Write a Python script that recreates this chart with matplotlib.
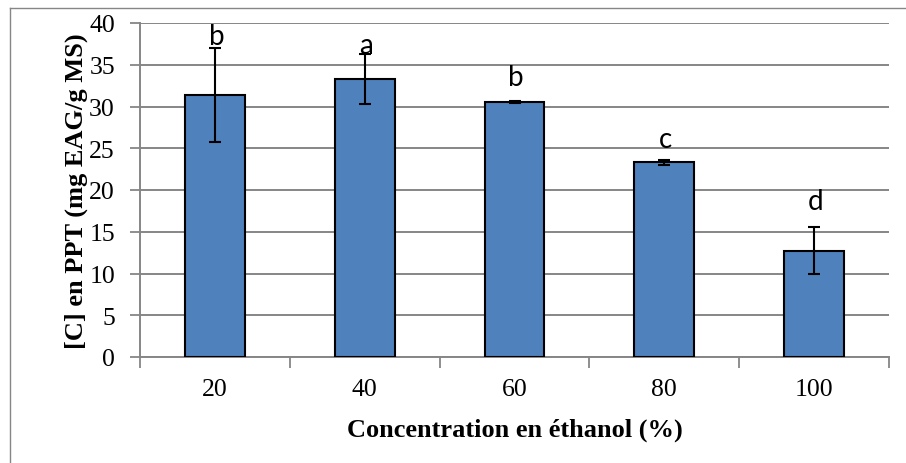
import matplotlib
matplotlib.use("Agg")
import matplotlib.pyplot as plt
from matplotlib.lines import Line2D
import numpy as np

categories = ["20", "40", "60", "80", "100"]
values = [31.4, 33.3, 30.5, 23.35, 12.75]
errors = [5.6, 3.0, 0.1, 0.3, 2.85]
letters = ["b", "a", "b", "c", "d"]
letter_y = [38.5, 37.4, 33.5, 26.1, 18.7]
y_ticks = [0, 5, 10, 15, 20, 25, 30, 35, 40]

W, H = 906, 464
fig = plt.figure(figsize=(W / 100, H / 100), dpi=100)
ax = fig.add_axes([140 / W, (H - 358) / H, (889 - 140) / W, (358 - 24) / H])

gray = "#868686"
x = np.arange(len(categories)) + 0.5
ax.bar(x, values, width=0.4, color="#4F81BD", edgecolor="black", linewidth=1.5, zorder=3)
ax.errorbar(x, values, yerr=errors, fmt="none", ecolor="black", elinewidth=1.5,
            capsize=4.5, capthick=1.5, zorder=4)

for xi, lab, ly in zip(x, letters, letter_y):
    ax.text(xi + 0.01, ly, lab, ha="center", va="center", fontsize=20,
            family=["Lato", "DejaVu Sans"], zorder=5)

ax.set_xlim(0, len(categories))
ax.set_ylim(0, 40)
ax.set_yticks(y_ticks)
ax.set_yticklabels([str(t) for t in y_ticks], family="Liberation Serif", fontsize=18.5)
ax.set_xticks(np.arange(len(categories) + 1))
ax.set_xticklabels([""] * (len(categories) + 1))
ax.set_xticks(x, minor=True)
ax.set_xticklabels(categories, minor=True, family="Liberation Serif", fontsize=18.5)
ax.tick_params(axis="x", which="minor", length=0, pad=15)
ax.tick_params(axis="x", which="major", length=8, width=1.3, color=gray, direction="out")
ax.tick_params(axis="y", length=7, width=1.3, color=gray, direction="out", pad=11)

ax.yaxis.grid(True, color=gray, linewidth=1.4, zorder=0)
ax.set_axisbelow(True)
for s in ["top", "right"]:
    ax.spines[s].set_visible(False)
for s in ["left", "bottom"]:
    ax.spines[s].set_color(gray)
    ax.spines[s].set_linewidth(1.4)

ax.set_ylabel("[C] en PPT (mg EAG/g MS)", family="Liberation Serif", fontsize=19,
              fontweight="bold", labelpad=1)
ax.set_xlabel("Concentration en éthanol (%)", family="Liberation Serif", fontsize=19,
              fontweight="bold", labelpad=13)

# outer chart frame (left and top visible)
fig.add_artist(Line2D([10 / W, 10 / W], [0, (H - 9) / H], transform=fig.transFigure,
                      color=gray, linewidth=1.0))
fig.add_artist(Line2D([10 / W, 1], [(H - 9) / H, (H - 9) / H], transform=fig.transFigure,
                      color=gray, linewidth=1.0))

fig.savefig("out.png", dpi=100)
